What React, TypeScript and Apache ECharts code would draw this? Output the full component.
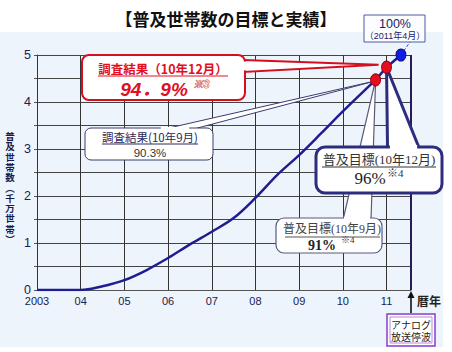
import { useEffect, useRef } from 'react';
import * as echarts from 'echarts';

const TITLE = '【普及世帯数の目標と実績】';
const Y_NAME_CHARS = ['普', '及', '世', '帯', '数', '︵', '千', '万', '世', '帯', '︶'];
const X_NAME = '暦年';

const curveYears = [2003.0, 2004.0, 2004.5, 2005.0, 2005.5, 2006.0, 2006.5, 2007.0, 2007.5, 2008.0, 2008.5, 2009.0, 2009.5, 2010.0, 2010.75];
const curveValues = [0, 0, 0.08, 0.21, 0.42, 0.68, 0.97, 1.24, 1.53, 1.96, 2.45, 2.87, 3.33, 3.8, 4.47];

const targetYears = [2010.75, 2011.0, 2011.33];
const targetValues = [4.47, 4.74, 5.0];
const targetColors = ['#e60f1e', '#e60f1e', '#0f1ee6'];

const surveyYears = [2010.75, 2010.82];
const surveyValues = [4.45, 4.79];

const analogOffYear = 2011.56;
const goalLine = 5;
const xMin = 2003;
const yMin = 0;
const yMax = 5;
const yInterval = 0.5;

const SANS = "'Liberation Sans', 'Noto Sans CJK JP', sans-serif";
const CJK = "'Noto Sans CJK JP', sans-serif";
const SERIF = "'Liberation Serif', 'Noto Sans CJK JP', serif";

function xLabel(v: number): string {
  const r = Math.round(v);
  if (Math.abs(v - r) > 1e-6) return '';
  return r === 2003 ? '2003' : String(r % 100).padStart(2, '0');
}

function txt(x: number, y: number, text: string, size: number, fill: string, extra: any = {}, z = 7) {
  return {
    type: 'text',
    x,
    y,
    z,
    silent: true,
    style: {
      text,
      fill,
      fontSize: size,
      fontFamily: extra.fontFamily || CJK,
      fontWeight: extra.fontWeight || 'normal',
      fontStyle: extra.fontStyle || 'normal',
      align: extra.align || 'center',
      verticalAlign: 'middle',
      stroke: extra.stroke,
      lineWidth: extra.lineWidth,
    },
  };
}

function uline(x1: number, x2: number, y: number, color: string, z = 7) {
  return { type: 'line', z, silent: true, shape: { x1, y1: y, x2, y2: y }, style: { stroke: color, lineWidth: 1 } };
}

type Box = { x: number; y: number; w: number; h: number; r: number };

function callout(box: Box, border: string, bw: number, side: 'top' | 'right', b1: number, b2: number, tip: number[]) {
  const els: any[] = [];
  let poly: number[][];
  let cover: any;
  if (side === 'top') {
    poly = [[b1, box.y + 2], [tip[0], tip[1]], [b2, box.y + 2]];
    cover = { x1: b1 + bw * 0.8, y1: box.y, x2: b2 - bw * 0.8, y2: box.y };
  } else {
    const xr = box.x + box.w;
    poly = [[xr - 2, b1], [tip[0], tip[1]], [xr - 2, b2]];
    cover = { x1: xr, y1: b1 + bw * 0.8, x2: xr, y2: b2 - bw * 0.8 };
  }
  els.push({ type: 'polygon', z: 5, silent: true, shape: { points: poly }, style: { fill: '#ffffff', stroke: border, lineWidth: bw, lineJoin: 'miter' } });
  els.push({ type: 'rect', z: 5, silent: true, shape: { x: box.x, y: box.y, width: box.w, height: box.h, r: box.r }, style: { fill: '#ffffff', stroke: border, lineWidth: bw } });
  els.push({ type: 'line', z: 6, silent: true, shape: cover, style: { stroke: '#ffffff', lineWidth: bw + 1.2 } });
  return els;
}

export default function App() {
  const ref = useRef<HTMLDivElement>(null);
  useEffect(() => {
    if (!ref.current) return;
    const chart = echarts.init(ref.current, undefined, { renderer: 'svg' });
    const curveData = curveYears.map((y, i) => [y, curveValues[i]]);
    const targetData = targetYears.map((y, i) => ({
      value: [y, targetValues[i]],
      itemStyle: { color: targetColors[i], borderColor: i === 2 ? '#0a0a80' : '#a00010', borderWidth: 1 },
    }));

    chart.setOption({
      animation: false,
      backgroundColor: '#ffffff',
      title: {
        text: TITLE,
        left: 'center',
        top: 5,
        textStyle: { fontSize: 17, fontWeight: 'bold', fontFamily: CJK, color: '#111111' },
      },
      grid: { left: 37, right: 41, top: 55, bottom: 62 },
      xAxis: {
        type: 'value',
        min: xMin,
        max: analogOffYear,
        interval: 1,
        axisLine: { show: true, lineStyle: { color: '#555555', width: 1 } },
        axisTick: { show: false },
        axisLabel: { formatter: xLabel, fontSize: 11, fontFamily: SANS, color: '#1a2050', margin: 5, showMaxLabel: false },
        splitLine: { show: true, lineStyle: { color: '#333333', width: 1 } },
      },
      yAxis: {
        type: 'value',
        min: yMin,
        max: yMax,
        interval: yInterval,
        axisLine: { show: true, lineStyle: { color: '#333333', width: 1 } },
        axisTick: { show: true, length: 3, lineStyle: { color: '#555555' } },
        axisLabel: {
          formatter: (v: number) => (Math.abs(v - Math.round(v)) < 1e-6 ? String(Math.round(v)) : ''),
          fontSize: 12.5,
          fontFamily: SANS,
          color: '#1a2050',
          margin: 6,
        },
        splitLine: { show: true, lineStyle: { color: '#444444', width: 1 } },
      },
      series: [
        {
          type: 'line',
          data: curveData,
          showSymbol: false,
          smooth: 0.35,
          z: 3,
          lineStyle: { color: '#1e1e90', width: 2.5 },
          markLine: {
            silent: true,
            symbol: 'none',
            label: { show: false },
            data: [
              { yAxis: goalLine, lineStyle: { color: '#e00010', type: [4, 3], width: 1.2 } },
              { xAxis: analogOffYear, lineStyle: { color: '#2a1a5a', type: 'solid', width: 2 } },
            ],
          },
        },
        {
          type: 'line',
          data: targetData,
          symbol: 'circle',
          symbolSize: [10, 12],
          z: 10,
          lineStyle: { color: '#1e1e90', width: 2.5 },
        },
      ],
    });

    const px = (x: number, y: number) => chart.convertToPixel({ gridIndex: 0 }, [x, y]) as number[];
    const tipS9 = px(surveyYears[0], surveyValues[0]);
    const tipS12 = px(surveyYears[1], surveyValues[1]);
    const tipG9 = px(targetYears[0], targetValues[0]);
    const tipG12 = px(targetYears[1], targetValues[1]);
    const dot100 = px(targetYears[2], targetValues[2]);
    const off = px(analogOffYear, 0);

    const g: any[] = [];
    // background panel
    g.push({ type: 'rect', z: -10, silent: true, shape: { x: 0, y: 32, width: 443, height: 315 }, style: { fill: '#edf4fc' } });

    // 100% box
    g.push({ type: 'line', z: 5, silent: true, shape: { x1: dot100[0], y1: dot100[1], x2: 410, y2: 42 }, style: { stroke: '#3040b0', lineWidth: 1, lineDash: [3, 2] } });
    g.push({ type: 'rect', z: 5, silent: true, shape: { x: 364, y: 15, width: 61, height: 27 }, style: { fill: '#fbfdff', stroke: '#4a5aa8', lineWidth: 1 } });
    g.push(txt(395, 24, '100%', 12.5, '#1a1a6a', { fontFamily: SANS }));
    g.push(txt(395, 36, '（2011年4月）', 9, '#1a1a6a', { fontFamily: SANS }));

    // red survey callout (10年12月)
    g.push(...callout({ x: 82, y: 55, w: 163, h: 45, r: 7 }, '#d41020', 2, 'right', 60, 72, tipS12));
    g.push(txt(163, 68, '調査結果（10年12月）', 12.5, '#e01020', { fontWeight: 'bold' }));
    g.push(uline(98, 228, 76, '#e01020'));
    g.push(txt(154, 89, '94．9%', 19, '#e01020', { fontFamily: SANS, fontWeight: 'bold', fontStyle: 'italic' }));
    g.push(txt(193, 84, '※3', 10.5, '#fbe4e8', { fontFamily: SANS, fontStyle: 'italic', align: 'left', stroke: '#c02838', lineWidth: 0.8 }));

    // white survey callout (10年9月)
    g.push(...callout({ x: 85, y: 128, w: 128, h: 32, r: 6 }, '#3c3c6e', 1, 'top', 160, 190, tipS9));
    g.push(txt(150, 137, '調査結果(10年9月)', 11.5, '#2a2a5a'));
    g.push(uline(102, 198, 144, '#2a2a5a'));
    g.push(txt(150, 153, '90.3%', 11.5, '#333333', { fontFamily: SANS }));

    // goal callout (10年9月)
    g.push(...callout({ x: 276, y: 218, w: 106, h: 35, r: 8 }, '#5a5a7a', 1.2, 'top', 343, 371, tipG9));
    g.push(txt(332, 229, '普及目標(10年9月)', 12, '#444444', { fontFamily: SERIF }));
    g.push(uline(285, 380, 237, '#555555'));
    g.push(txt(322, 245, '91%', 14, '#222222', { fontFamily: SERIF, fontWeight: 'bold' }));
    g.push(txt(341, 240, '※4', 9, '#333333', { fontFamily: SERIF, align: 'left' }));

    // goal callout (10年12月)
    g.push(...callout({ x: 316, y: 147, w: 126, h: 46, r: 9 }, '#2d2d7d', 3, 'top', tipG12[0] + 1, tipG12[0] + 33, tipG12));
    g.push(txt(379, 159, '普及目標(10年12月)', 13, '#333333', { fontFamily: SERIF }));
    g.push(uline(322, 436, 167, '#333333'));
    g.push(txt(370, 178, '96%', 17, '#222222', { fontFamily: SERIF }));
    g.push(txt(387, 173, '※4', 11, '#333333', { fontFamily: SERIF, align: 'left' }));

    // y axis name (vertical, one glyph per row)
    Y_NAME_CHARS.forEach((ch, i) => {
      g.push(txt(10, 136 + i * 10.3, ch, 9.5, '#1a1a4a', { fontWeight: 'bold' }));
    });
    // x axis name
    g.push(txt(429, 300, X_NAME, 12, '#222222', { fontWeight: 'bold' }));

    // analog shutdown arrow & box
    g.push({ type: 'line', z: 6, silent: true, shape: { x1: off[0], y1: 313, x2: off[0], y2: 296 }, style: { stroke: '#111111', lineWidth: 1.6 } });
    g.push({ type: 'polygon', z: 6, silent: true, shape: { points: [[off[0], off[1] + 1], [off[0] - 3.5, off[1] + 8], [off[0] + 3.5, off[1] + 8]] }, style: { fill: '#111111' } });
    g.push({ type: 'rect', z: 5, silent: true, shape: { x: off[0] - 24, y: 314, width: 48, height: 32 }, style: { fill: '#ffffff', stroke: '#8a3cc8', lineWidth: 1.5 } });
    g.push({ type: 'rect', z: 5, silent: true, shape: { x: off[0] - 21, y: 317, width: 42, height: 26 }, style: { fill: '#ffffff', stroke: '#b48ae0', lineWidth: 1 } });
    g.push(txt(off[0], 324, 'アナログ', 10, '#222222'));
    g.push(txt(off[0], 336, '放送停波', 10, '#222222'));

    chart.setOption({ graphic: g });

    return () => chart.dispose();
  }, []);

  return (
    <div style={{ position: 'fixed', left: 0, top: 0, width: 452, height: 352 }}>
      <div ref={ref} style={{ width: 452, height: 352 }} />
    </div>
  );
}
